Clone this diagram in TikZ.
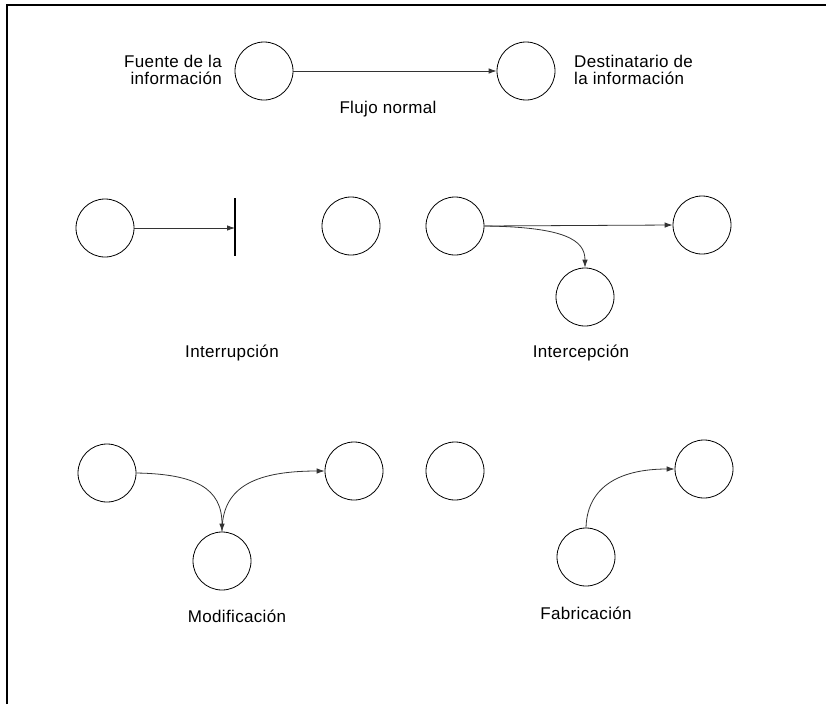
\documentclass[tikz,border=0pt]{standalone}
\usepackage{fontspec}
\setmainfont{Liberation Sans}[LetterSpace=2]
\usetikzlibrary{arrows.meta}
\begin{document}
\begin{tikzpicture}[x=1pt,y=-1pt,
  nodo/.style={draw, circle, minimum size=58pt, inner sep=0pt, line width=0.8pt},
  flecha/.style={line width=0.8pt, draw=black!80, -{Latex[length=8pt,width=5.5pt]}},
  rotulo/.style={font=\fontsize{17}{17.5}\selectfont, inner sep=0pt},
  barra/.style={line width=1.6pt},
]
\useasboundingbox (0,0) rectangle (826,704);
% frame
\draw[line width=2pt] (7,704) -- (7,5) -- (826,5);

% normal flow
\node[nodo] (fuente) at (264,71) {};
\node[nodo] (destino) at (526,71) {};
\draw[flecha] (fuente) -- (destino);
\node[rotulo, align=right, anchor=east] (tfuente) at (222,70) {Fuente de la\\información};
\node[rotulo, align=left, anchor=west] (tdestino) at (574,70) {Destinatario de\\la información};
\node[rotulo] (tflujo) at (388,109) {Flujo normal};

% interruption
\node[nodo] (ia) at (105,228) {};
\coordinate (corteA) at (235,198);
\coordinate (corteB) at (235,256);
\coordinate (corteM) at (235,228);
\draw[barra] (corteA) -- (corteB);
\draw[flecha] (ia.east) -- (corteM);
\node[nodo] (ib) at (351,226) {};
\node[rotulo] (tinterr) at (232,353) {Interrupción};

% interception
\node[nodo] (ca) at (455,226) {};
\node[nodo] (cb) at (702,225) {};
\node[nodo] (cc) at (585,297) {};
\draw[flecha] (ca.east) -- (cb.west);
\draw[flecha] (ca.east) .. controls (565,227) and (585,240) .. (cc.north);
\node[rotulo] (tinterc) at (581,353) {Intercepción};

% modification
\node[nodo] (ma) at (107,473) {};
\node[nodo] (mb) at (354,471) {};
\node[nodo] (mc) at (222,561) {};
\draw[flecha] (ma.east) .. controls (195,474) and (222,488) .. (mc.north);
\draw[flecha] (mc.north) .. controls (222,490) and (250,471) .. (mb.west);
\node[rotulo] (tmodif) at (237,616) {Modificación};

% fabrication
\node[nodo] (fa) at (455,471) {};
\node[nodo] (fb) at (704,469) {};
\node[nodo] (fc) at (586,557) {};
\draw[flecha] (fc.north) .. controls (587,490) and (615,469) .. (fb.west);
\node[rotulo] (tfabric) at (586,613) {Fabricación};
\end{tikzpicture}
\end{document}
